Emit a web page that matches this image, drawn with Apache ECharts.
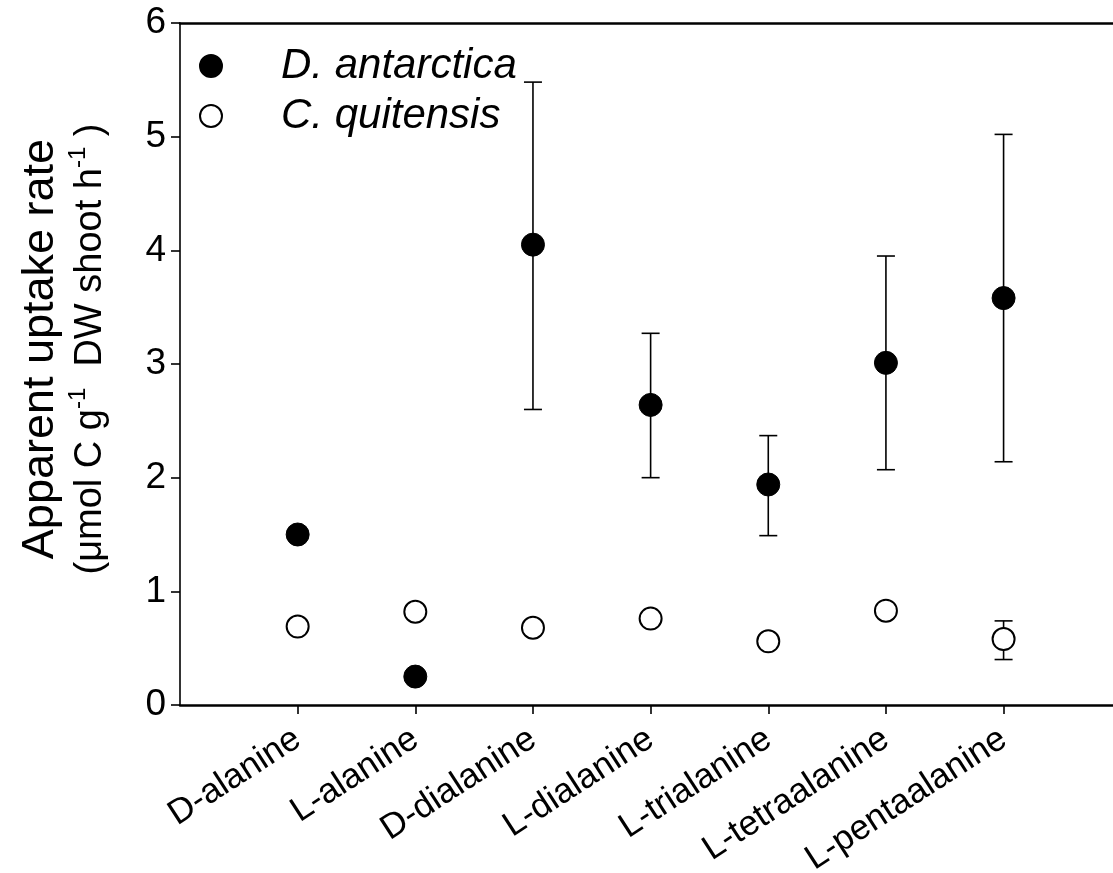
<!DOCTYPE html>
<html>
<head>
<meta charset="utf-8">
<title>Apparent uptake rate</title>
<script src="https://cdn.jsdelivr.net/npm/echarts@6/dist/echarts.min.js"></script>
<style>
  html, body { margin: 0; padding: 0; background: #fff; }
  #main { width: 1113px; height: 873px; }
</style>
</head>
<body>
<div id="main"></div>
<script>
// compounds on the x axis
var categories = ['D-alanine', 'L-alanine', 'D-dialanine', 'L-dialanine',
  'L-trialanine', 'L-tetraalanine', 'L-pentaalanine'];

// D. antarctica (filled)
var antMean = [1.50, 0.25, 4.05, 2.64, 1.94, 3.01, 3.58];
var antLow  = [1.45, 0.21, 2.60, 2.00, 1.49, 2.07, 2.14];
var antHigh = [1.54, 0.28, 5.48, 3.27, 2.37, 3.95, 5.02];

// C. quitensis (open)
var quiMean = [0.69, 0.82, 0.68, 0.76, 0.56, 0.83, 0.58];
var quiLow  = [0.66, 0.79, 0.65, 0.73, 0.52, 0.80, 0.40];
var quiHigh = [0.72, 0.85, 0.71, 0.79, 0.60, 0.86, 0.74];

var yTicks = [0, 1, 2, 3, 4, 5, 6];

var FONT = '"Liberation Sans", Arial, sans-serif';

function points(means) {
  return means.map(function (v, i) { return [i + 1, v]; });
}
function bars(low, high) {
  return low.map(function (v, i) { return [i + 1, v, high[i]]; });
}

// error bar with caps
function renderErr(params, api) {
  var x = api.value(0);
  var lo = api.coord([x, api.value(1)]);
  var hi = api.coord([x, api.value(2)]);
  var w = 9;
  var st = { stroke: '#000', lineWidth: 1.6 };
  return {
    type: 'group',
    children: [
      { type: 'line', shape: { x1: hi[0], y1: hi[1], x2: lo[0], y2: lo[1] }, style: st },
      { type: 'line', shape: { x1: hi[0] - w, y1: hi[1], x2: hi[0] + w, y2: hi[1] }, style: st },
      { type: 'line', shape: { x1: lo[0] - w, y1: lo[1], x2: lo[0] + w, y2: lo[1] }, style: st }
    ]
  };
}

var myChart = echarts.init(document.getElementById('main'));

myChart.setOption({
  backgroundColor: '#fff',
  animation: false,
  textStyle: { fontFamily: FONT, color: '#000' },
  grid: { left: 180, right: 0, top: 23, bottom: 168, containLabel: false, outerBoundsMode: 'none' },
  legend: {
    orient: 'vertical',
    left: 194,
    top: 40,
    itemWidth: 22,
    itemHeight: 22,
    itemGap: 8,
    data: ['D. antarctica', 'C. quitensis'],
    textStyle: {
      fontFamily: FONT, fontStyle: 'italic', fontSize: 42, color: '#000',
      padding: [0, 0, 0, 54], lineHeight: 40
    }
  },
  xAxis: [{
    type: 'value',
    min: 0,
    max: 7.93,
    position: 'bottom',
    splitLine: { show: false },
    axisLine: { lineStyle: { color: '#000', width: 2.5 } },
    axisTick: { customValues: [1, 2, 3, 4, 5, 6, 7], length: 9, inside: false,
      lineStyle: { color: '#000', width: 1.6 } },
    axisLabel: {
      customValues: [1, 2, 3, 4, 5, 6, 7],
      formatter: function (v) { return categories[Math.round(v) - 1] || ''; },
      rotate: 33,
      margin: 31,
      fontSize: 35,
      color: '#000',
      fontFamily: FONT
    }
  }, {
    type: 'value',
    min: 0,
    max: 7.93,
    position: 'top',
    splitLine: { show: false },
    axisLine: { show: true, lineStyle: { color: '#000', width: 2.5 } },
    axisTick: { show: false },
    axisLabel: { show: false }
  }],
  yAxis: {
    type: 'value',
    min: yTicks[0],
    max: yTicks[yTicks.length - 1],
    interval: 1,
    splitLine: { show: false },
    axisLine: { show: true, lineStyle: { color: '#000', width: 1.6 } },
    axisTick: { show: true, length: 9, lineStyle: { color: '#000', width: 1.6 } },
    axisLabel: { fontSize: 37, color: '#000', margin: 14, fontFamily: FONT },
    name: '{a|Apparent uptake rate}\n{b|(μmol C g}{s|-1}{b|  DW shoot h}{s|-1}{b| )}',
    nameLocation: 'middle',
    nameGap: 64,
    nameTextStyle: {
      fontFamily: FONT,
      color: '#000',
      padding: [0, 0, 0, 30],
      rich: {
        a: { fontSize: 45, lineHeight: 50, fontFamily: FONT, color: '#000' },
        b: { fontSize: 38, lineHeight: 50, fontFamily: FONT, color: '#000' },
        s: { fontSize: 24, lineHeight: 50, verticalAlign: 'top', fontFamily: FONT, color: '#000' }
      }
    }
  },
  series: [
    {
      name: 'antErr',
      type: 'custom',
      renderItem: renderErr,
      data: bars(antLow, antHigh),
      z: 1,
      silent: true
    },
    {
      name: 'quiErr',
      type: 'custom',
      renderItem: renderErr,
      data: bars(quiLow, quiHigh),
      z: 1,
      silent: true
    },
    {
      name: 'D. antarctica',
      type: 'scatter',
      symbol: 'circle',
      symbolSize: 23,
      itemStyle: { color: '#000', borderColor: '#000', borderWidth: 1, opacity: 1 },
      data: points(antMean),
      z: 3
    },
    {
      name: 'C. quitensis',
      type: 'scatter',
      symbol: 'circle',
      symbolSize: 22,
      itemStyle: { color: '#fff', borderColor: '#000', borderWidth: 2, opacity: 1 },
      data: points(quiMean),
      z: 3
    }
  ]
});
</script>
</body>
</html>
